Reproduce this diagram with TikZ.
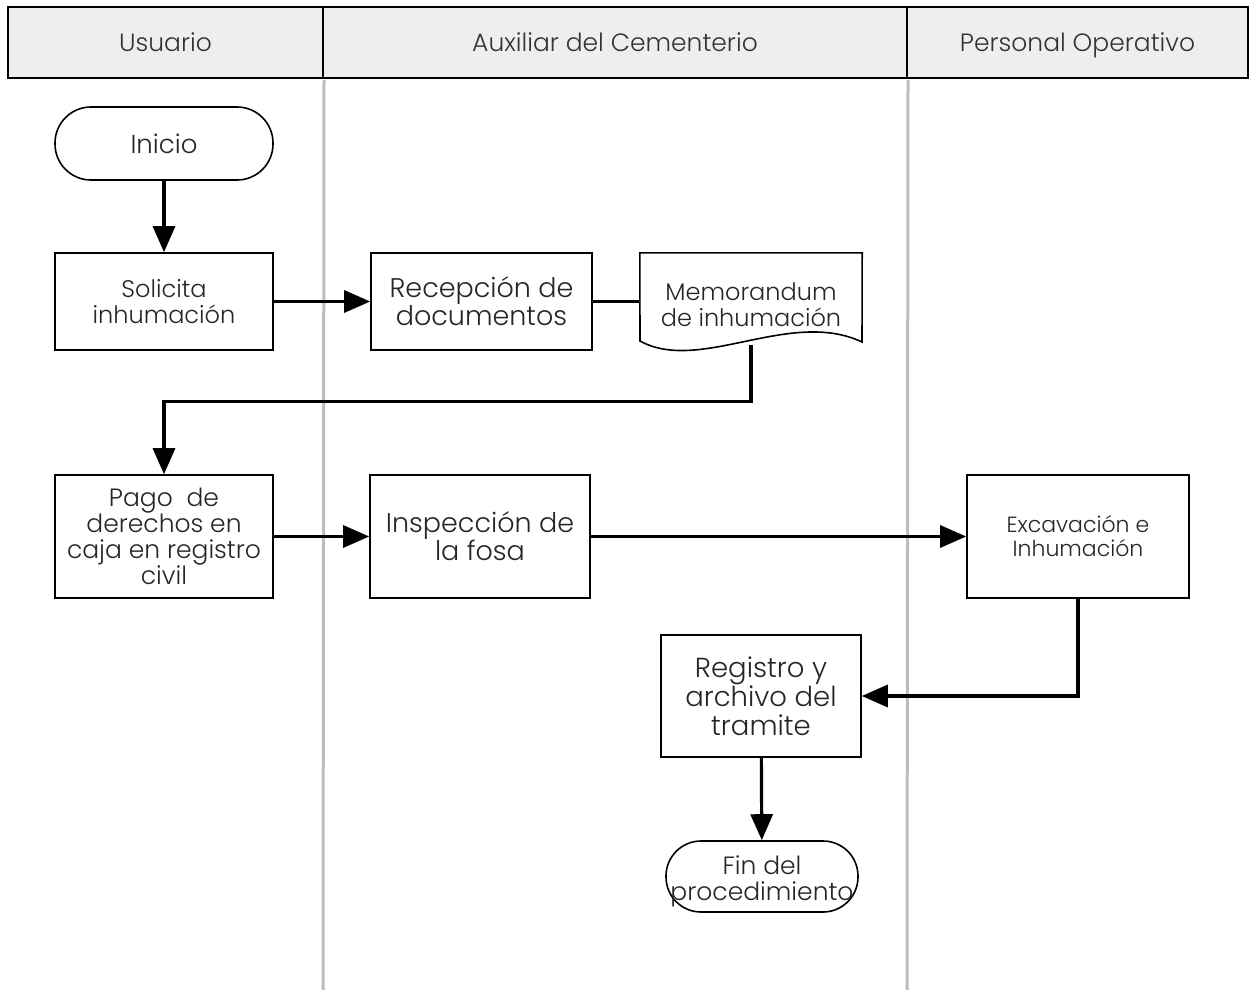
\documentclass[tikz,border=0pt]{standalone}
\usepackage{fontspec}
\setmainfont{Poppins}[UprightFont={* Light}]
\usetikzlibrary{arrows.meta,backgrounds}
\definecolor{hdrfill}{HTML}{EEEEEE}
\definecolor{lanegray}{HTML}{BDBDBD}
\tikzset{
  hdr/.style={draw, line width=2pt, fill=hdrfill, inner sep=0, text height=18pt, text depth=0pt, font=\fontsize{25}{28}\selectfont, text=black!80},
  proc/.style={draw, line width=1.6pt, fill=white, align=center, inner sep=0, text=black!85},
  term/.style={proc},
  lane/.style={draw=lanegray, line width=3pt},
  flow/.style={line width=3.2pt, -{Triangle[length=26pt,width=22pt]}},
  plain/.style={line width=3.2pt}
}
\begin{document}
\begin{tikzpicture}[x=1pt,y=-1pt]
\useasboundingbox (0,0) rectangle (1255,990);
% lanes
\node[hdr, minimum width=315pt, minimum height=71pt] (h1) at (165.5,42.5) {Usuario};
\node[hdr, minimum width=584pt, minimum height=71pt] (h2) at (615,42.5) {Auxiliar del Cementerio};
\node[hdr, minimum width=341pt, minimum height=71pt] (h3) at (1077.5,42.5) {Personal Operativo};
\coordinate (b1) at (323,990);
\coordinate (b2) at (907,990);
\draw[lane] ([yshift=-1pt]h1.south east) -- (b1);
\draw[lane] ([yshift=-1pt]h2.south east) -- (b2);
% nodes
\node[term, rounded corners=36pt, minimum width=218pt, minimum height=73pt, font=\fontsize{26}{28}\selectfont] (ini) at (164,143.5) {Inicio};
\node[proc, minimum width=218pt, minimum height=97pt, font=\fontsize{24}{26}\selectfont] (sol) at (164,301.5) {Solicita\\inhumación};
\node[proc, minimum width=221pt, minimum height=97pt, font=\fontsize{27}{28}\selectfont] (rec) at (481.5,301.5) {Recepción de\\documentos};
\node[inner sep=0, minimum width=222pt, minimum height=92pt,
  label={[name=memotxt, align=center, text=black!85, font=\fontsize{24}{26}\selectfont, yshift=-6pt]center:{Memorandum\\de inhumación}}] (memo) at (751,299) {};
\begin{pgfonlayer}{background}
\fill[white] (0,0) rectangle (1255,990);
\draw[line width=1.6pt, fill=white] (memo.north west) -- (memo.north east) -- (862,342)
  .. controls (790,308) and (700,374) .. (640,341) -- cycle;
\end{pgfonlayer}
\node[proc, minimum width=218pt, minimum height=123pt, font=\fontsize{25}{26}\selectfont] (pago) at (164,536.5) {Pago\ \ de\\derechos en\\caja en registro\\civil};
\node[proc, minimum width=220pt, minimum height=123pt, font=\fontsize{27}{28}\selectfont] (insp) at (480,536.5) {Inspección de\\la fosa};
\node[proc, minimum width=222pt, minimum height=123pt, font=\fontsize{22}{24}\selectfont] (exc) at (1078,536.5) {Excavación e\\Inhumación};
\node[proc, minimum width=200pt, minimum height=122pt, font=\fontsize{27.5}{29}\selectfont] (reg) at (761,696) {Registro y\\archivo del\\tramite};
\node[term, rounded corners=35pt, minimum width=192pt, minimum height=71pt,
  label={[name=fintxt, align=center, text=black!85, font=\fontsize{25}{26}\selectfont, yshift=-4.5pt]center:{Fin del\\procedimiento}}] (fin) at (762,876.5) {};
% connectors
\draw[flow] (ini) -- (sol);
\draw[flow] (sol) -- (rec);
\draw[plain] (rec.east) -- (rec.east -| memo.west);
\draw[flow] (memo.south) -- ++(0,56) -| (pago.north);
\draw[flow] (pago) -- (insp);
\draw[flow] (insp) -- (exc);
\draw[flow] (exc.south) |- (reg.east);
\draw[flow] (reg) -- (fin);
\end{tikzpicture}
\end{document}
